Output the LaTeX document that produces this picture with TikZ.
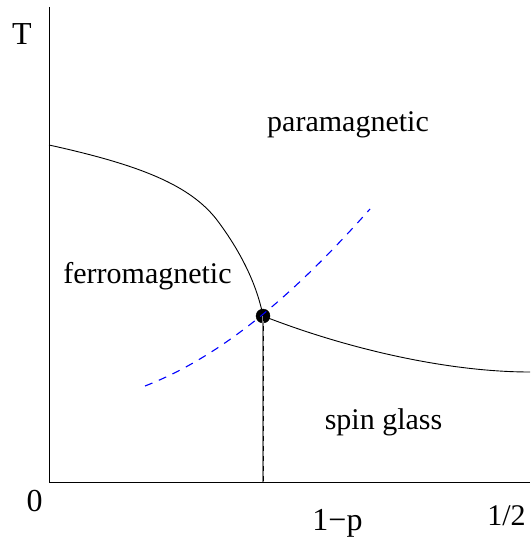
\documentclass[tikz,border=0pt]{standalone}
\usepackage{fontspec}
\setmainfont{Liberation Serif}
\usepackage{tikz}
\usetikzlibrary{positioning,calc}
\tikzset{
  axis/.style={line width=1pt, draw=black},
  boundary/.style={line width=0.9pt, draw=black},
  crossover/.style={line width=1.1pt, draw=blue, dash pattern=on 8pt off 7pt},
  nishimori/.style={line width=1pt, draw=black, dash pattern=on 5pt off 5pt},
  phaselabel/.style={font=\fontsize{30}{36}\selectfont, anchor=base, inner sep=0pt},
  axislabel/.style={font=\fontsize{32}{38}\selectfont, anchor=base, inner sep=0pt},
  multicritical/.style={circle, fill=black, draw=black, minimum size=14pt, inner sep=0pt}
}

\begin{document}
\begin{tikzpicture}[x=1pt, y=-1pt]
\useasboundingbox (0,0) rectangle (530,537);
% axes
\coordinate (origin) at (49,482);
\coordinate (ttop) at (49,7);
\coordinate (xend) at (530,482);
\draw[axis] (ttop) -- (origin) -- (xend);
\node[axislabel] (tlab) at (22,45) {T};
\node[axislabel] (zero) at (34.5,511) {0};
\node[axislabel] (plab) at (337.5,530) {1−p};
\node[axislabel, font=\fontsize{30}{36}\selectfont] (half) at (506.5,525) {1/2};

% multicritical point
\node[multicritical] (mc) at (263,316) {};
\coordinate (tc) at (49,145);
\coordinate (bend) at (217,220);
\coordinate (sgend) at (530,372);
\coordinate (mcbase) at (mc |- origin);

% phase boundaries
\draw[boundary] (tc) .. controls (140,165) and (190,185) .. (bend)
  .. controls (232,240) and (255,275) .. (mc.center);
\draw[boundary] (mc.center) .. controls (350,350) and (450,372) .. (sgend);
\draw[line width=1.2pt, gray] (mc.center) -- (mcbase);
\draw[nishimori] (mc.center) -- (mcbase);

% Nishimori line
\coordinate (nlow) at (145,386);
\coordinate (nhigh) at (370,209);
\draw[crossover] (nlow) .. controls (225,355) and (298,290) .. (nhigh);

% phases
\node[phaselabel] (para) at (348,132) {paramagnetic};
\node[phaselabel] (ferro) at (147.5,283) {ferromagnetic};
\node[phaselabel] (sg) at (383.5,429) {spin glass};
\end{tikzpicture}
\end{document}
